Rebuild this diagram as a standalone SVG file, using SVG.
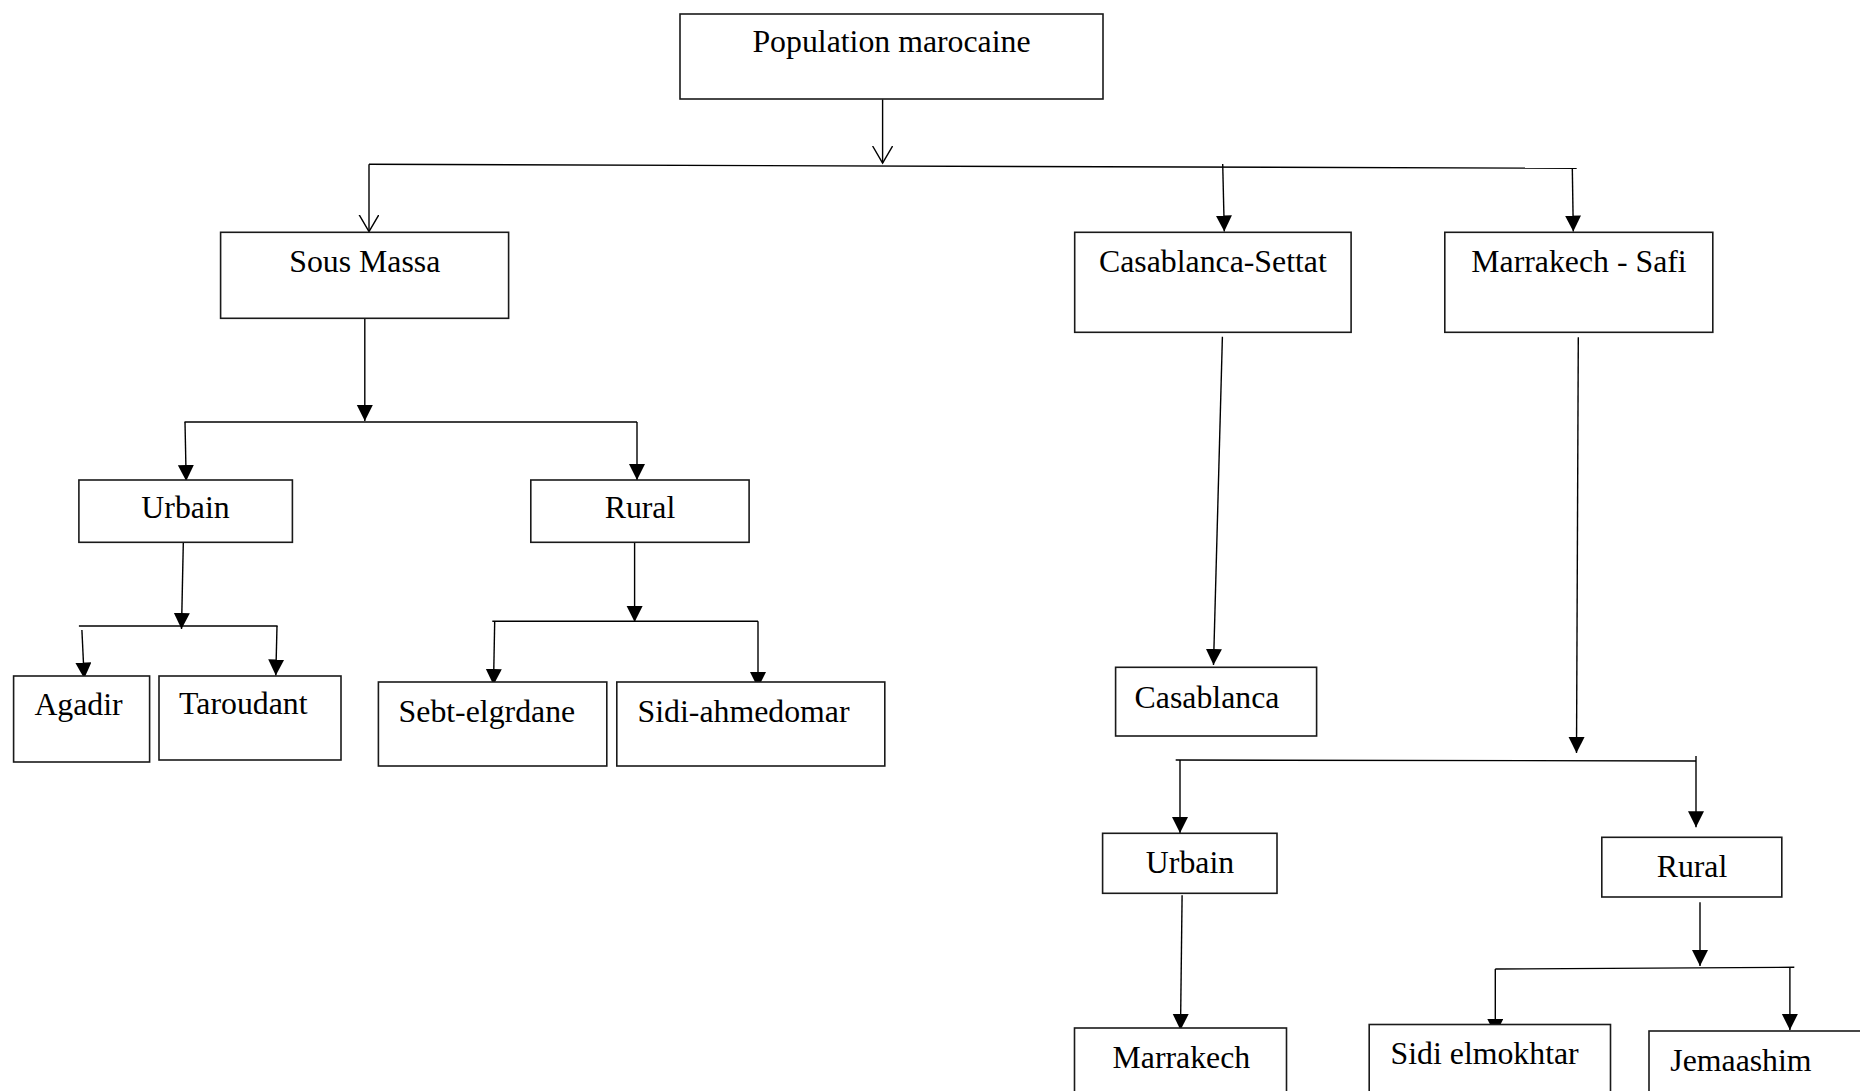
<svg xmlns="http://www.w3.org/2000/svg" width="1860" height="1091" viewBox="0 0 1860 1091">
<style>
.box{fill:#fff;stroke:#1a1a1a;stroke-width:1.6}
.t{font-family:"Liberation Serif","Times New Roman",serif;font-size:31.8px;fill:#000}
.c{text-anchor:middle}
.ln{stroke:#000;stroke-width:1.4;fill:none}
.fa{marker-end:url(#fill)}
.oa{marker-end:url(#open)}
</style>
<defs>
<marker id="fill" markerUnits="userSpaceOnUse" markerWidth="18" markerHeight="18" refX="16" refY="8" orient="auto" viewBox="0 0 18 18">
<path d="M0,0 L16,8 L0,16 z" fill="#000"/>
</marker>
<marker id="open" markerUnits="userSpaceOnUse" markerWidth="20" markerHeight="24" refX="17" refY="10" orient="auto" viewBox="0 0 20 24">
<path d="M0,0 L17,10 L0,20" fill="none" stroke="#000" stroke-width="1.4"/>
</marker>
</defs>
<rect width="1860" height="1091" fill="#fff"/>
<g id="connectors">
<line class="ln oa" x1="882.6" y1="99.3" x2="882.6" y2="163"/>
<line class="ln" x1="369" y1="164.3" x2="1576.7" y2="168.3" stroke-width="2.2"/>
<line class="ln oa" x1="369" y1="164.3" x2="369" y2="231.5"/>
<line class="ln fa" x1="1222.7" y1="164" x2="1224.3" y2="231.5"/>
<line class="ln fa" x1="1572.3" y1="168" x2="1573.3" y2="231.5"/>
<line class="ln fa" x1="364.8" y1="318.3" x2="364.8" y2="421"/>
<line class="ln" x1="184.5" y1="422" x2="637" y2="422" stroke-width="1.8"/>
<line class="ln fa" x1="185" y1="422" x2="186.2" y2="481"/>
<line class="ln fa" x1="637" y1="422" x2="637" y2="480"/>
<line class="ln fa" x1="183.3" y1="543" x2="181.5" y2="629"/>
<line class="ln" x1="78.9" y1="626" x2="277.6" y2="626" stroke-width="1.8"/>
<line class="ln fa" x1="81.9" y1="630" x2="84.2" y2="678.5"/>
<line class="ln fa" x1="277" y1="626" x2="275.8" y2="675.5"/>
<line class="ln fa" x1="634.6" y1="542.3" x2="634.6" y2="622"/>
<line class="ln" x1="492.3" y1="621.3" x2="758" y2="621.3" stroke-width="1.8"/>
<line class="ln fa" x1="494.7" y1="621.3" x2="493.5" y2="685"/>
<line class="ln fa" x1="758" y1="621.3" x2="758" y2="688"/>
<line class="ln fa" x1="1222.4" y1="336.7" x2="1213.5" y2="665"/>
<line class="ln fa" x1="1578.3" y1="337.3" x2="1576.5" y2="753"/>
<line class="ln" x1="1175.7" y1="760" x2="1696" y2="761" stroke-width="1.6"/>
<line class="ln fa" x1="1696" y1="756" x2="1696" y2="827.3"/>
<line class="ln fa" x1="1180" y1="760" x2="1180" y2="833"/>
<line class="ln fa" x1="1182.1" y1="895.3" x2="1180.5" y2="1030"/>
<line class="ln fa" x1="1700" y1="902.3" x2="1700" y2="966"/>
<line class="ln" x1="1495.3" y1="969" x2="1794.3" y2="967.3" stroke-width="1.6"/>
<line class="ln fa" x1="1495.3" y1="969" x2="1495.3" y2="1035"/>
<line class="ln fa" x1="1789.9" y1="967.5" x2="1789.9" y2="1030"/>
</g>
<g id="n-population">
<rect class="box" x="680" y="14" width="423" height="85"/>
<text class="t c" x="891.5" y="51.7">Population marocaine</text>
</g>
<g id="n-sous-massa">
<rect class="box" x="220.6" y="232.3" width="288" height="86"/>
<text class="t c" x="364.8" y="271.7">Sous Massa</text>
</g>
<g id="n-casablanca-settat">
<rect class="box" x="1074.7" y="232.3" width="276.4" height="100"/>
<text class="t c" x="1212.9" y="272.3">Casablanca-Settat</text>
</g>
<g id="n-marrakech-safi">
<rect class="box" x="1444.8" y="232.3" width="268" height="100"/>
<text class="t c" x="1579" y="272.3">Marrakech - Safi</text>
</g>
<g id="n-sm-urbain">
<rect class="box" x="78.9" y="480" width="213.5" height="62.3"/>
<text class="t c" x="185.5" y="518.3">Urbain</text>
</g>
<g id="n-sm-rural">
<rect class="box" x="530.8" y="480" width="218.3" height="62.3"/>
<text class="t c" x="640" y="518">Rural</text>
</g>
<g id="n-agadir">
<rect class="box" x="13.6" y="676" width="136" height="86"/>
<text class="t" x="34.4" y="715">Agadir</text>
</g>
<g id="n-taroudant">
<rect class="box" x="159" y="676" width="182" height="84"/>
<text class="t" x="179.1" y="714">Taroudant</text>
</g>
<g id="n-sebt">
<rect class="box" x="378.4" y="682" width="228.4" height="84"/>
<text class="t" x="398.6" y="721.7">Sebt-elgrdane</text>
</g>
<g id="n-sidi-ahmedomar">
<rect class="box" x="616.8" y="682" width="268" height="84"/>
<text class="t" x="637.6" y="721.7">Sidi-ahmedomar</text>
</g>
<g id="n-casablanca">
<rect class="box" x="1115.6" y="667.3" width="201" height="68.7"/>
<text class="t" x="1134.6" y="708.3">Casablanca</text>
</g>
<g id="n-ms-urbain">
<rect class="box" x="1102.6" y="833.3" width="174.4" height="60"/>
<text class="t c" x="1190" y="873.3">Urbain</text>
</g>
<g id="n-ms-rural">
<rect class="box" x="1601.8" y="837.3" width="180" height="59.7"/>
<text class="t c" x="1692" y="876.7">Rural</text>
</g>
<g id="n-marrakech">
<rect class="box" x="1074.5" y="1028" width="212" height="100"/>
<text class="t" x="1112.5" y="1067.5">Marrakech</text>
</g>
<g id="n-sidi-elmokhtar">
<rect class="box" x="1369.2" y="1024.5" width="241.3" height="100"/>
<text class="t" x="1390.6" y="1064">Sidi elmokhtar</text>
</g>
<g id="n-jemaashim">
<rect class="box" x="1649" y="1031" width="230" height="100"/>
<text class="t" x="1670.3" y="1070.5">Jemaashim</text>
</g>
</svg>
